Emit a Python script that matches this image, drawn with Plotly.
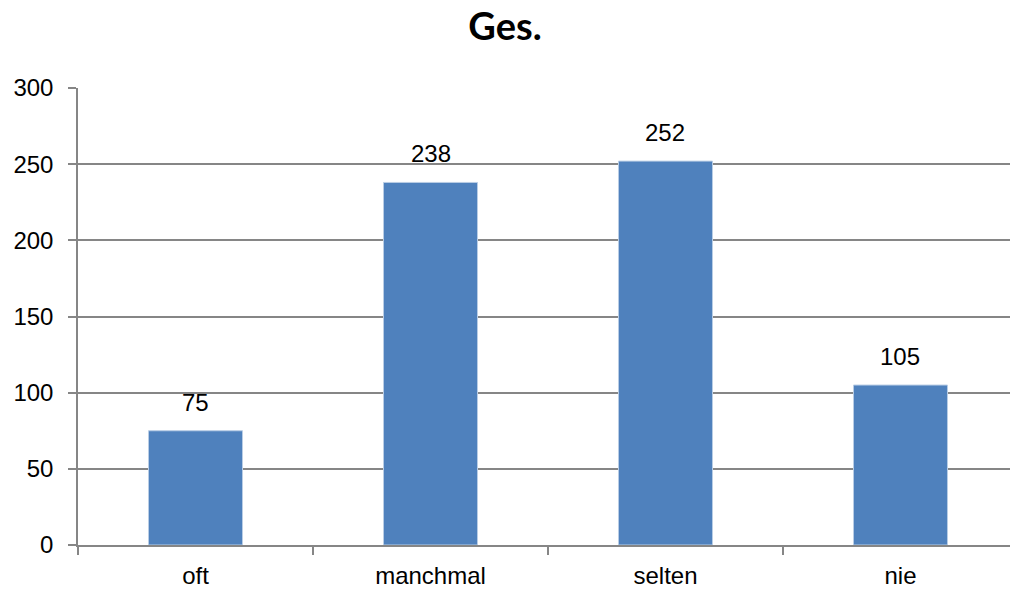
import plotly.graph_objects as go

categories = ["oft", "manchmal", "selten", "nie"]
values = [75, 238, 252, 105]
y_ticks = [0, 50, 100, 150, 200, 250, 300]

FONT = "Liberation Sans, Arial"
GRAY = "#868686"

fig = go.Figure(go.Bar(
    x=categories, y=values, width=0.4,
    marker=dict(color="#4F81BD", line=dict(color="#B9CDE5", width=1)),
    hoverinfo="x+y",
))
for c, v in zip(categories, values):
    fig.add_annotation(x=c, y=v, text=str(v), showarrow=False, yanchor="bottom",
                       yshift=13, font=dict(family=FONT, size=24, color="#000000"))

fig.update_layout(
    width=1010, height=594,
    margin=dict(l=78, r=0, t=88, b=49),
    paper_bgcolor="white", plot_bgcolor="white",
    title=dict(text="<b>Ges.</b>", x=0.5, xanchor="center", y=0.955, yanchor="middle",
               font=dict(family="Lato, Open Sans", size=38, color="#000000")),
    showlegend=False,
    xaxis=dict(range=[-0.5, 3.466], tickson="boundaries", ticks="outside", ticklen=8,
               tickcolor=GRAY, tickwidth=1.5, showline=True, linecolor=GRAY,
               linewidth=1.5, showgrid=False, ticklabelstandoff=8,
               tickfont=dict(family=FONT, size=24, color="#000000")),
    yaxis=dict(range=[0, 300], tickvals=y_ticks, ticks="outside", ticklen=8,
               tickcolor=GRAY, tickwidth=1.5, showline=True, linecolor=GRAY,
               linewidth=1.5, showgrid=True, gridcolor=GRAY, gridwidth=1.5,
               zeroline=False, ticklabelstandoff=10,
               tickfont=dict(family=FONT, size=24, color="#000000")),
)
fig.write_html("out.html", config={"displayModeBar": False},
               post_script="document.body.style.margin='0';document.body.style.overflow='hidden';")
